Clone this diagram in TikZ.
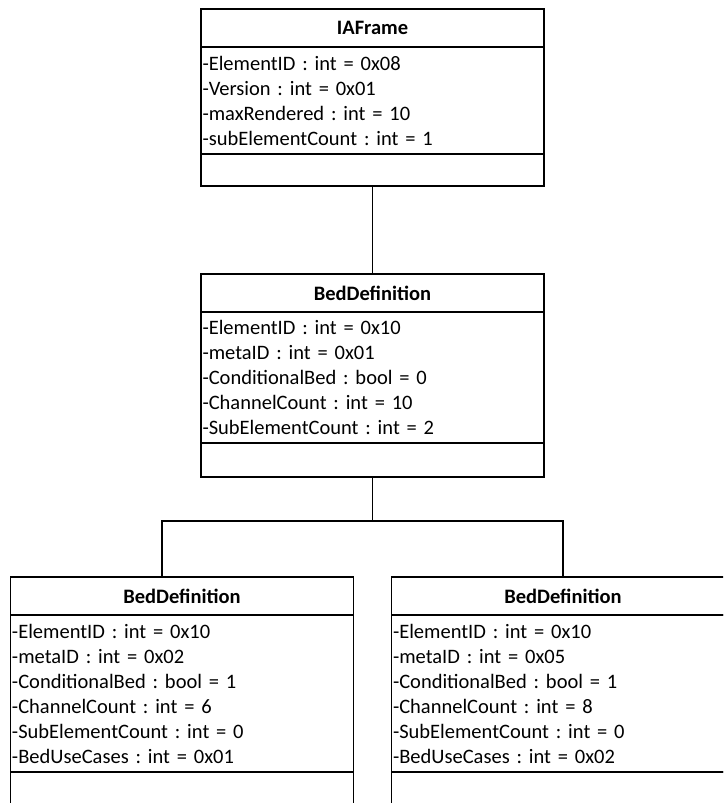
\documentclass[tikz,border=0pt]{standalone}
\usepackage{fontspec}
\setmainfont{Carlito}
\usetikzlibrary{positioning,calc}
\newcommand{\umlfont}{\fontsize{20.5}{25}\selectfont\frenchspacing}
\tikzset{
  umlhead/.style={draw, line width=1.8pt, outer sep=0pt, minimum width=343pt, minimum height=38pt, inner sep=0pt, font=\umlfont\bfseries},
  umlattr/.style={draw, line width=1.8pt, outer sep=0pt, text width=340pt, inner xsep=1.5pt, inner ysep=0pt, minimum height=#1, align=left, font=\umlfont},
  umlops/.style={draw, line width=1.8pt, outer sep=0pt, minimum width=343pt, minimum height=#1, inner sep=0pt},
  umlline/.style={line width=1.8pt},
}

\begin{document}
\begin{tikzpicture}[x=1pt, y=-1pt]
  \clip (0,0) rectangle (723,803);
  % IAFrame
  \node[umlhead] (iaH) at (372.5,28) {IAFrame};
  \node[umlattr=107pt, below=0pt of iaH] (iaA) {-ElementID : int = 0x08\\-Version : int = 0x01\\-maxRendered : int = 10\\-subElementCount : int = 1};
  \node[umlops=32pt, below=0pt of iaA] (iaO) {};
  % bed definition, parent
  \node[umlhead] (bdH) at (372.5,293) {BedDefinition};
  \node[umlattr=131pt, below=0pt of bdH] (bdA) {-ElementID : int = 0x10\\-metaID : int = 0x01\\-ConditionalBed : bool = 0\\-ChannelCount : int = 10\\-SubElementCount : int = 2};
  \node[umlops=34pt, below=0pt of bdA] (bdO) {};
  % bed definitions, children
  \node[umlhead] (bdLH) at (182,596) {BedDefinition};
  \node[umlattr=157pt, below=0pt of bdLH] (bdLA) {-ElementID : int = 0x10\\-metaID : int = 0x02\\-ConditionalBed : bool = 1\\-ChannelCount : int = 6\\-SubElementCount : int = 0\\-BedUseCases : int = 0x01};
  \node[umlops=34pt, below=0pt of bdLA] (bdLO) {};
  \node[umlhead] (bdRH) at (563,596) {BedDefinition};
  \node[umlattr=157pt, below=0pt of bdRH] (bdRA) {-ElementID : int = 0x10\\-metaID : int = 0x05\\-ConditionalBed : bool = 1\\-ChannelCount : int = 8\\-SubElementCount : int = 0\\-BedUseCases : int = 0x02};
  \node[umlops=34pt, below=0pt of bdRA] (bdRO) {};
  \draw[umlline] (iaO) -- (bdH);
  \draw[umlline] (bdO.south) -- ++(0,44) coordinate (fork);
  \draw[umlline] (fork) -| ([xshift=-20pt]bdLH.north);
  \draw[umlline] (fork) -| (bdRH.north);
\end{tikzpicture}
\end{document}
